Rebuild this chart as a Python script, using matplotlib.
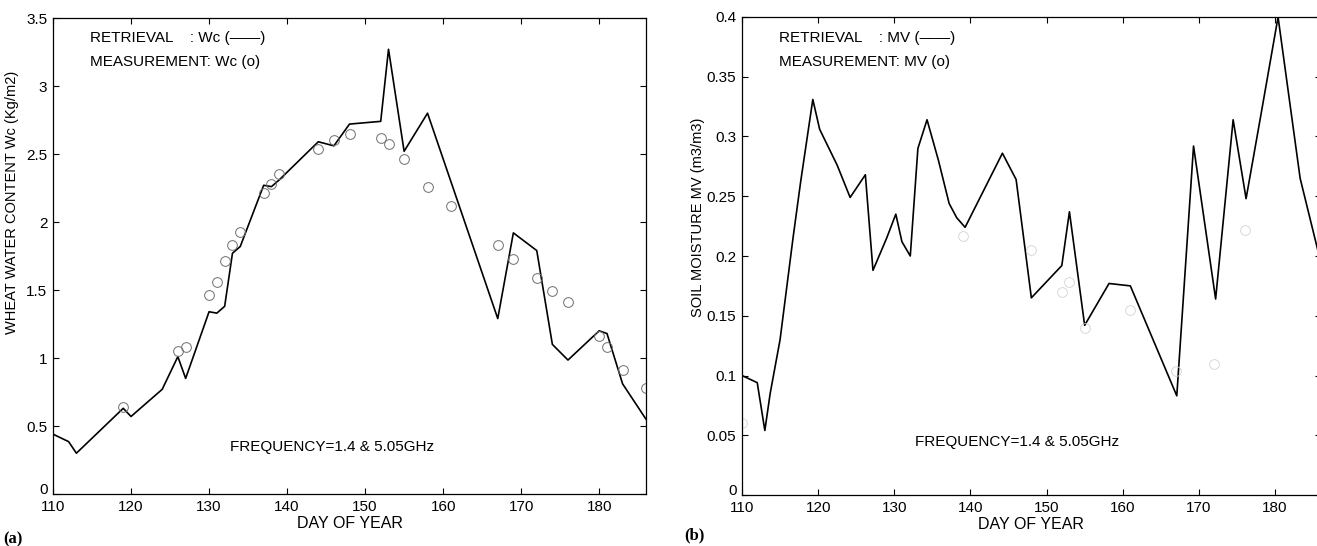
"""Wc / MV retrieval vs measurement — out.png 생성 (2 panel)."""
import matplotlib.pyplot as plt
import matplotlib as mpl
import matplotlib.transforms as mtransforms
from matplotlib.ticker import FormatStrFormatter

mpl.rcParams["font.family"] = ["Liberation Sans", "DejaVu Sans"]
mpl.rcParams["font.size"] = 11

# ─── (a) wheat water content ───────────────────────────────────────
WC_DAY = [110, 112, 113, 119, 120, 124, 126, 127, 130, 131, 132, 133, 134, 137, 138, 139,
          144, 146, 148, 152, 153, 155, 158, 167, 169, 172, 174, 176, 180, 181, 183, 186]
WC_RET = [0.44, 0.385, 0.30, 0.63, 0.57, 0.77, 1.01, 0.85, 1.34, 1.33, 1.38, 1.77, 1.82, 2.27,
          2.26, 2.31, 2.59, 2.56, 2.72, 2.74, 3.27, 2.52, 2.80, 1.29, 1.92, 1.79, 1.10, 0.985,
          1.20, 1.18, 0.81, 0.55]
WC_MEAS_DAY = [119, 126, 127, 130, 131, 132, 133, 134, 137, 138, 139, 144, 146, 148, 152, 153,
               155, 158, 161, 167, 169, 172, 174, 176, 180, 181, 183, 186]
WC_MEAS = [0.64, 1.05, 1.08, 1.46, 1.56, 1.71, 1.83, 1.93, 2.21, 2.28, 2.35, 2.54, 2.60, 2.65,
           2.62, 2.57, 2.46, 2.26, 2.12, 1.83, 1.73, 1.59, 1.49, 1.41, 1.16, 1.08, 0.91, 0.78]

# ─── (b) soil moisture ─────────────────────────────────────────────
MV_DAY = [110, 112, 113, 113.7, 115, 116, 116.7, 117.7, 119.3, 120.2, 122.5, 124.2, 126.2, 127.2,
          129, 130.2, 131, 132.1, 133.1, 134.3, 135.8, 137.2, 138.2, 139.3, 144.2, 146, 148, 152,
          153, 155, 158.2, 161, 167.1, 169.3, 172.2, 174.5, 176.2, 178.2, 180.4, 183.3, 186]
MV_RET = [0.100, 0.094, 0.054, 0.085, 0.13, 0.18, 0.215, 0.262, 0.331, 0.306, 0.276, 0.249, 0.268,
          0.188, 0.215, 0.235, 0.212, 0.200, 0.290, 0.314, 0.28, 0.244, 0.232, 0.224, 0.286, 0.264,
          0.165, 0.192, 0.237, 0.142, 0.177, 0.175, 0.083, 0.292, 0.164, 0.314, 0.248, 0.32, 0.400,
          0.265, 0.195]
MV_MEAS_DAY = [110, 139, 148, 152, 153, 155, 161, 167, 172, 176]
MV_MEAS = [0.06, 0.217, 0.205, 0.17, 0.178, 0.14, 0.155, 0.104, 0.11, 0.222]

XLIM = (110, 186)
XTICKS = [110, 120, 130, 140, 150, 160, 170, 180]


def style_axes(fig, ax, ylim, ystep, fmt):
    ax.set_xlim(*XLIM)
    ax.set_ylim(*ylim)
    ax.set_xticks(XTICKS)
    ax.set_yticks([ystep * i for i in range(int(round(ylim[1] / ystep)) + 1)])
    ax.yaxis.set_major_formatter(FormatStrFormatter(fmt))
    ax.tick_params(direction="in", top=True, right=True, length=4, width=0.8,
                   labelsize=11, pad=4)
    for s in ax.spines.values():
        s.set_linewidth(0.9)
    ax.set_xlabel("DAY OF YEAR", fontsize=11.5, labelpad=2)
    # "0" 라벨을 살짝 위로 (원본처럼 110 위에 얹힘)
    lab = ax.yaxis.get_major_ticks()[0].label1
    lab.set_transform(lab.get_transform()
                      + mtransforms.ScaledTranslation(0, 4 / 72, fig.dpi_scale_trans))


fig = plt.figure(figsize=(13.17, 5.46), dpi=100)

# (a)
ax1 = fig.add_axes([53 / 1317, 1 - 494 / 546, 593 / 1317, 476 / 546])
ax1.plot(WC_DAY, WC_RET, color="black", linewidth=1.2)
ax1.plot(WC_MEAS_DAY, WC_MEAS, linestyle="none", marker="o", markersize=7,
         markerfacecolor="none", markeredgecolor="#6e6e6e", markeredgewidth=0.7)
style_axes(fig, ax1, (0, 3.5), 0.5, "%g")
ax1.set_ylabel("WHEAT WATER CONTENT Wc (Kg/m2)", fontsize=10.5)
ax1.yaxis.set_label_coords(-0.057, 0.613)
ax1.text(0.062, 0.958, "RETRIEVAL    : Wc (\u2014\u2014)", transform=ax1.transAxes, va="center")
ax1.text(0.062, 0.908, "MEASUREMENT: Wc (o)", transform=ax1.transAxes, va="center")
ax1.text(0.2985, 0.099, "FREQUENCY=1.4 & 5.05GHz", transform=ax1.transAxes, va="center")

# (b)
ax2 = fig.add_axes([742 / 1317, 1 - 495 / 546, 578.7 / 1317, 478 / 546])
ax2.plot(MV_DAY, MV_RET, color="black", linewidth=1.2)
ax2.plot(MV_MEAS_DAY, MV_MEAS, linestyle="none", marker="o", markersize=7,
         markerfacecolor="none", markeredgecolor="#d2d2d2", markeredgewidth=0.6)
style_axes(fig, ax2, (0, 0.4), 0.05, "%g")
ax2.set_ylabel("SOIL MOISTURE MV (m3/m3)", fontsize=10.5)
ax2.yaxis.set_label_coords(-0.064, 0.58)
ax2.text(0.064, 0.956, "RETRIEVAL    : MV (\u2014\u2014)", transform=ax2.transAxes, va="center")
ax2.text(0.064, 0.906, "MEASUREMENT: MV (o)", transform=ax2.transAxes, va="center")
ax2.text(0.299, 0.111, "FREQUENCY=1.4 & 5.05GHz", transform=ax2.transAxes, va="center")

fig.text(3 / 1317, 0.004, "(a)", family="Liberation Serif", weight="bold", fontsize=12)
fig.text(684 / 1317, 0.012, "(b)", family="Liberation Serif", weight="bold", fontsize=12)

fig.savefig("out.png", dpi=100)
